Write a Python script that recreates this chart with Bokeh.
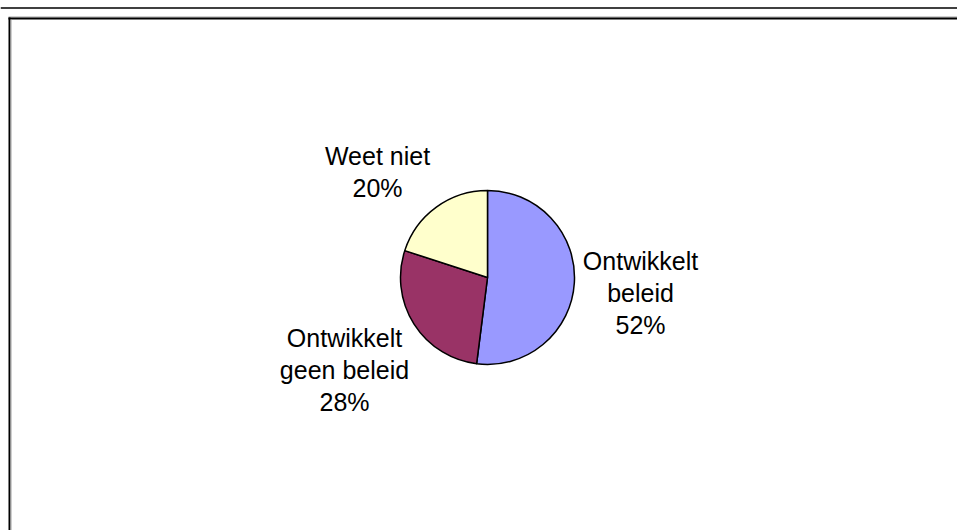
import math
from bokeh.plotting import figure
from bokeh.models import Range1d, ColumnDataSource
from bokeh.core.properties import value
from bokeh.embed import file_html
from bokeh.resources import INLINE

# ---- data ----
categories = ["Ontwikkelt\nbeleid", "Ontwikkelt\ngeen beleid", "Weet niet"]
shares = [52, 28, 20]
colors = ["#9999FF", "#993366", "#FFFFCC"]

# ---- layout (pixels) ----
W, H = 957, 530
cx, cy, R = 487, 277, 87
# label block centre x and first baseline y (pixels from top)
label_pos = [(640, 260), (344, 337), (377, 155)]
line_gap = 32.3
font = "Liberation Sans"
fsize = "25px"

p = figure(width=W, height=H, output_backend="svg", toolbar_location=None,
           x_range=Range1d(0, W), y_range=Range1d(0, H), min_border=0,
           outline_line_color=None, background_fill_color="white",
           border_fill_color="white")
p.axis.visible = False
p.grid.visible = False

def Y(py):
    return H - py

# frame decoration
p.segment(x0=[0], y0=[Y(7.5)], x1=[W], y1=[Y(7.5)], line_color="black", line_width=1.3)
p.segment(x0=[8], y0=[Y(16.5)], x1=[W], y1=[Y(16.5)], line_color="#a0a0a0", line_width=1)
p.segment(x0=[8], y0=[Y(18)], x1=[W], y1=[Y(18)], line_color="black", line_width=2)
p.segment(x0=[9], y0=[Y(17)], x1=[9], y1=[Y(H + 5)], line_color="black", line_width=2)
p.segment(x0=[10.5], y0=[Y(19)], x1=[10.5], y1=[Y(H + 5)], line_color="#a0a0a0", line_width=1)

# pie
total = float(sum(shares))
starts, ends = [], []
cum = 0.0
for s in shares:
    starts.append(math.pi / 2 - 2 * math.pi * cum / total)
    cum += s
    ends.append(math.pi / 2 - 2 * math.pi * cum / total)
src = ColumnDataSource(dict(x=[cx] * len(shares), y=[Y(cy)] * len(shares),
                            start=starts, end=ends, color=colors))
p.wedge(x="x", y="y", radius=R, radius_units="screen", start_angle="start",
        end_angle="end", direction="clock", fill_color="color",
        line_color="black", line_width=1.5, source=src)

# labels
tx, ty, tt = [], [], []
for cat, s, (lx, ly) in zip(categories, shares, label_pos):
    lines = cat.split("\n") + [f"{s}%"]
    for i, ln in enumerate(lines):
        tx.append(lx)
        ty.append(Y(ly + i * line_gap))
        tt.append(ln)
p.text(x=tx, y=ty, text=tt, text_align="center", text_baseline="alphabetic",
       text_font=value(font), text_font_size=fsize, text_color="black")

open("out.html", "w").write(file_html(p, INLINE))
